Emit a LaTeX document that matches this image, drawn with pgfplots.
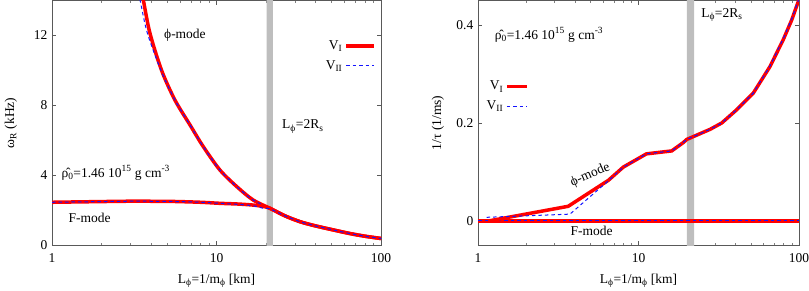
\documentclass[border=0pt]{standalone}
\usepackage{fontspec}
\setmainfont{Liberation Serif}
\usepackage{pgfplots}
\pgfplotsset{compat=1.18}
\definecolor{bandgray}{RGB}{190,190,190}
\definecolor{dblue}{RGB}{20,20,255}
\tikzset{
  vone/.style={red, line width=3.5bp},
  vtwo/.style={dblue, line width=1bp, dash pattern=on 3.5bp off 3bp},
}
\begin{document}
\fontsize{13.5bp}{16bp}\selectfont
\begin{tikzpicture}
\path[use as bounding box] (0,0) rectangle (809bp,291bp);
% ---------------- left panel
\begin{axis}[
  scale only axis, xmode=log, xmin=1, xmax=100,
  xtick={1,10,100}, xticklabels={1,10,100},
  minor tick num=0,
  axis line style={black!65, line width=0.8bp},
  major tick style={black!65, line width=0.6bp},
  major tick length=4.5bp,
  /pgf/number format/assume math mode=true,
  xlabel={L\textsubscript{ϕ}=1/m\textsubscript{ϕ} [km]},
  x label style={at={(rel axis cs:0.5,0)}, anchor=center, yshift=-35.5bp},
  y label style={at={(axis description cs:-0.125,0.5)}, anchor=center},
  xticklabel style={yshift=-3bp},
  legend plot pos=right,
  legend cell align=right,
  at={(52bp,45.5bp)}, anchor=south west,
  width=329bp, height=245bp,
  ymin=0, ymax=14, ytick={0,4,8,12},
  ylabel={ω\textsubscript{R} (kHz)},
  legend style={draw=none, fill=none, row sep=5bp, inner sep=0pt, at={(rel axis cs:0.985,0.845)}, anchor=north east},
  legend image code/.code={\draw[#1] (0bp,0bp) -- (28bp,0bp);},
]
\addplot[fill=bandgray, draw=none, forget plot] coordinates {(20.2,-1) (22,-1) (22,20) (20.2,20)} \closedcycle;
% phi-mode V_I
\addplot[vone, smooth] coordinates {
(3.45,14.8) (3.59,14.03) (3.94,12.13) (4.64,10.0) (5.59,8.31) (6.9,6.89) (8.31,5.65)
(10.5,4.31) (13.3,3.36) (16.7,2.6) (21.1,2.13) (26,1.7) (32.2,1.36) (40,1.12) (51.3,0.89)
(65,0.68) (80,0.53) (100,0.40)};
\addlegendentry{V\textsubscript{I}}
% phi-mode V_II
\addplot[vtwo, smooth] coordinates {
(3.3,14.8) (3.43,14.03) (3.8,12.13) (4.6,10.0) (5.59,8.31) (6.9,6.89) (8.31,5.65)
(10.5,4.31) (13.3,3.36) (16.7,2.6) (21.1,2.13) (26,1.7) (32.2,1.36) (40,1.12) (51.3,0.89)
(65,0.68) (80,0.53) (100,0.40)};
\addlegendentry{V\textsubscript{II}}
% F-mode V_I
\addplot[vone, smooth, forget plot] coordinates {
(1,2.47) (2,2.51) (3,2.53) (5.2,2.52) (8,2.47) (10.5,2.41) (13.5,2.37) (16.7,2.31) (19,2.24) (21.1,2.13)
(26,1.7) (32.2,1.36) (40,1.12) (51.3,0.89) (65,0.68) (80,0.53) (100,0.40)};
% F-mode V_II
\addplot[vtwo, smooth, forget plot] coordinates {
(1,2.47) (2,2.51) (3,2.53) (5.2,2.52) (8,2.47) (10.5,2.41) (13.5,2.35) (16.7,2.27) (19.2,2.13) (21.1,2.1)
(26,1.7) (32.2,1.36) (40,1.12) (51.3,0.89) (65,0.68) (80,0.53) (100,0.40)};
\node at (axis cs:6.43,12.0) {ϕ-mode};
\node[anchor=west] at (axis cs:23.5,6.8) {L\textsubscript{ϕ}=2R\textsubscript{s}};
\node[anchor=west] at (axis cs:1.07,4.15) {\^{ρ}\textsubscript{0}=1.46 10\textsuperscript{15} g cm\textsuperscript{-3}};
\node[anchor=west] at (axis cs:1.18,1.57) {F-mode};
\end{axis}
% ---------------- right panel
\begin{axis}[
  scale only axis, xmode=log, xmin=1, xmax=100,
  xtick={1,10,100}, xticklabels={1,10,100},
  minor tick num=0,
  axis line style={black!65, line width=0.8bp},
  major tick style={black!65, line width=0.6bp},
  major tick length=4.5bp,
  /pgf/number format/assume math mode=true,
  xlabel={L\textsubscript{ϕ}=1/m\textsubscript{ϕ} [km]},
  x label style={at={(rel axis cs:0.5,0)}, anchor=center, yshift=-35.5bp},
  y label style={at={(axis description cs:-0.125,0.5)}, anchor=center},
  xticklabel style={yshift=-3bp},
  legend plot pos=right,
  legend cell align=right,
  at={(478bp,45.5bp)}, anchor=south west,
  width=321bp, height=245bp,
  ymin=-0.05, ymax=0.45, ytick={0,0.2,0.4}, yticklabels={0,0.2,0.4},
  ylabel={1/τ (1/ms)},
  legend style={draw=none, fill=none, row sep=5bp, inner sep=0pt, at={(rel axis cs:0.02,0.68)}, anchor=north west},
  legend image code/.code={\draw[#1] (0bp,0bp) -- (20bp,0bp);},
]
\addplot[fill=bandgray, draw=none, forget plot] coordinates {(20,-1) (22.2,-1) (22.2,1) (20,1)} \closedcycle;
% F-mode
\addplot[vone, forget plot] coordinates {(1,0) (100,0)};
\addplot[vtwo, forget plot] coordinates {(1,0) (100,0)};
% phi-mode V_I
\addplot[vone] coordinates {
(1.16,0) (3.65,0.030) (6.49,0.083) (8.04,0.110) (11.2,0.137) (16.1,0.143) (19,0.160) (20,0.1665)
(27.9,0.187) (33,0.200) (40.9,0.227) (51.9,0.261) (65.9,0.315) (79.8,0.370) (90,0.41) (100,0.452)};
\addlegendentry{V\textsubscript{I}}
% phi-mode V_II
\addplot[vtwo] coordinates {
(1.13,0.0075) (3.74,0.014) (6.49,0.082) (8.04,0.110) (11.2,0.137) (16.1,0.143) (19,0.160) (20,0.1665)
(27.9,0.187) (33,0.200) (40.9,0.227) (51.9,0.261) (65.9,0.316) (79.8,0.372) (90,0.412) (100,0.454)};
\addlegendentry{V\textsubscript{II}}
\node[anchor=west] at (axis cs:1.19,0.38) {\^{ρ}\textsubscript{0}=1.46 10\textsuperscript{15} g cm\textsuperscript{-3}};
\node[anchor=west] at (axis cs:23,0.42) {L\textsubscript{ϕ}=2R\textsubscript{s}};
\node[rotate=23] at (axis cs:5.0,0.094) {ϕ-mode};
\node at (axis cs:5.11,-0.021) {F-mode};
\end{axis}
\end{tikzpicture}
\end{document}
